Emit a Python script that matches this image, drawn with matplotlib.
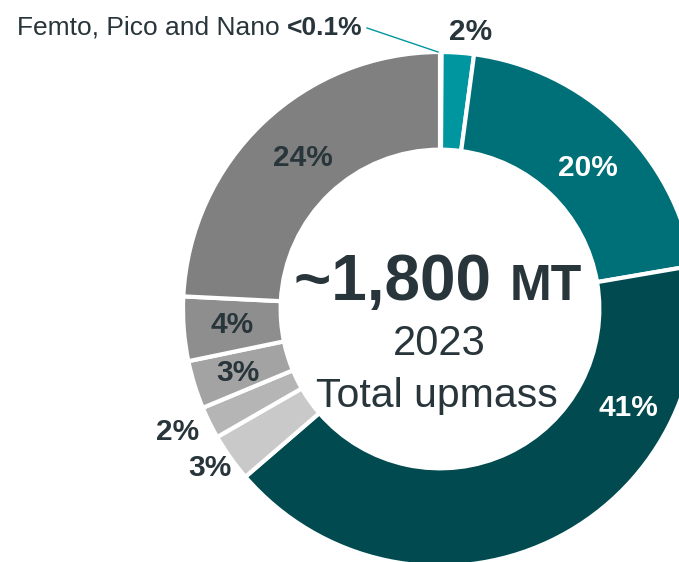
import matplotlib
matplotlib.use("Agg")
import matplotlib.pyplot as plt

plt.rcParams['font.family'] = ['Liberation Sans', 'DejaVu Sans']

# Data (clockwise from top)
segments = ["Femto, Pico and Nano", "Segment A", "Segment B", "Segment C",
            "Segment D", "Segment E", "Segment F", "Segment G", "Segment H"]
values = [0.1, 2, 20, 41, 3, 2, 3, 4, 24]
labels = ["<0.1%", "2%", "20%", "41%", "3%", "2%", "3%", "4%", "24%"]
colors = ["#0096A0", "#0096A0", "#007078", "#004A50", "#C8C9C8",
          "#B4B5B4", "#A3A3A3", "#8E8E8E", "#808080"]

center_big = "~1,800"
center_unit = "MT"
center_year = "2023"
center_sub = "Total upmass"

W, H = 679, 562
cx, cy, R = 440, 309, 257   # pixel centre and radius


def px(x, y):
    return (x - cx) / R, (cy - y) / R


fig = plt.figure(figsize=(W / 100, H / 100), dpi=100)
ax = fig.add_axes([0, 0, 1, 1])

wedges, _ = ax.pie(values, colors=colors, startangle=90, counterclock=False,
                   radius=1.0, wedgeprops=dict(width=0.38, edgecolor='white', linewidth=3),
                   normalize=True)
ax.set_xlim(-cx / R, (W - cx) / R)
ax.set_ylim(-(H - cy) / R, cy / R)
ax.set_aspect('equal')
ax.axis('off')

dark = "#28353B"
# label positions (pixel coords) and colours
label_pos = [None, (471, 32), (588, 168), (628, 408), (210, 468),
             (178, 432), (238, 373), (232, 325), (303, 158)]
label_col = [None, dark, "white", "white", dark, dark, dark, dark, dark]
for lab, pos, col in zip(labels, label_pos, label_col):
    if pos is None:
        continue
    x, y = px(*pos)
    ax.text(x, y, lab, ha='center', va='center', fontsize=21.5,
            fontweight='bold', color=col)

# Femto annotation
x0, y0 = px(367, 28)
x1, y1 = px(438, 52)
ax.plot([x0, x1], [y0, y1], color="#0096A0", lw=1)
tx, ty = px(363, 28)
t2 = ax.text(tx, ty, labels[0], ha='right', va='center', fontsize=19,
             fontweight='bold', color=dark)
fig.canvas.draw()
bb = t2.get_window_extent()
inv = ax.transData.inverted()
lx, _ = inv.transform((bb.x0, 0))
ax.text(lx, ty, segments[0] + " ", ha='right', va='center', fontsize=19,
        color=dark)

# Centre text
bx, by = px(438, 300)
t_big = ax.text(0, 0, center_big + " ", ha='left', va='baseline', fontsize=46,
                fontweight='bold', color=dark)
t_unit = ax.text(0, 0, center_unit, ha='left', va='baseline', fontsize=36,
                 fontweight='bold', color=dark)
fig.canvas.draw()
w1 = t_big.get_window_extent().width / R
w2 = t_unit.get_window_extent().width / R
start = bx - (w1 + w2) / 2
t_big.set_position((start, by))
t_unit.set_position((start + w1, by))

yx, yy = px(439, 355)
ax.text(yx, yy, center_year, ha='center', va='baseline', fontsize=30, color=dark)
sx, sy = px(437, 407)
ax.text(sx, sy, center_sub, ha='center', va='baseline', fontsize=29.5, color=dark)

fig.savefig("out.png", dpi=100)
